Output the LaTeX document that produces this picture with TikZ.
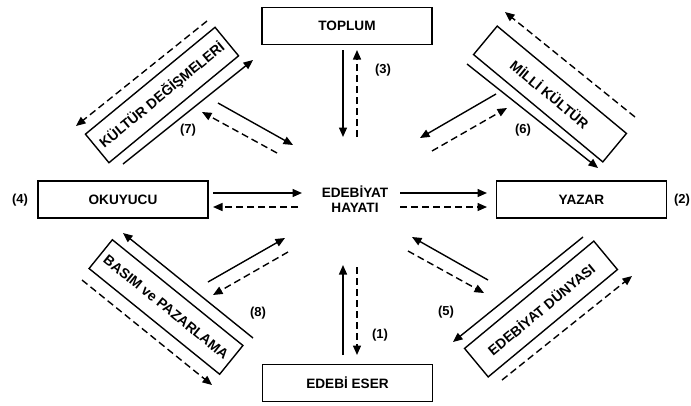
\documentclass[tikz,border=0pt]{standalone}
\usepackage{fontspec}
\setmainfont{Liberation Sans}
\usetikzlibrary{arrows.meta}
\begin{document}
\begin{tikzpicture}[x=1pt,y=-1pt,
 box/.style={draw,line width=1.5pt,minimum width=170pt,minimum height=37pt,inner sep=0pt,font=\fontsize{13.6}{15.5}\bfseries\selectfont},
 rbox/.style={draw,line width=1.4pt,minimum width=168pt,minimum height=37pt,inner sep=0pt,font=\fontsize{14}{15}\bfseries\selectfont},
 lbl/.style={inner sep=0pt,font=\fontsize{13}{14}\bfseries\selectfont},
 arr/.style={line width=1.4pt,-{Triangle[length=9.5pt,width=8pt]}},
 darr/.style={arr,dash pattern=on 7pt off 4pt},
]
\useasboundingbox (0,0) rectangle (691,405);
% main boxes
\node[box] (toplum) at (347,26) {TOPLUM};
\node[box] (okuyucu) at (123,199.5) {OKUYUCU};
\node[box] (yazar) at (581.5,199.5) {YAZAR};
\node[box] (eser) at (347.5,383) {EDEB\.I ESER};
\node[inner sep=0pt,align=center,font=\fontsize{13.6}{15}\bfseries\selectfont] (hayat) at (355,199.5) {EDEB\.IYAT\\HAYATI};
% rotated boxes
\node[rbox,rotate=39.5] (kultur) at (162,95) {KÜLTÜR DEĞİŞMELERİ};
\node[rbox,rotate=-39.7] (milli) at (550,94) {MİLLİ KÜLTÜR};
\node[rbox,rotate=-39] (basim) at (166,307) {BASIM ve PAZARLAMA};
\node[rbox,rotate=39.7] (dunya) at (541,309) {EDEBİYAT DÜNYASI};
% numbers
\node[lbl] (n3) at (383,70) {(3)};
\node[lbl] (n4) at (20,200) {(4)};
\node[lbl] (n2) at (682,200) {(2)};
\node[lbl] (n1) at (380,335) {(1)};
\node[lbl] (n7) at (188,130) {(7)};
\node[lbl] (n6) at (523,130) {(6)};
\node[lbl] (n8) at (258,313) {(8)};
\node[lbl] (n5) at (446,312) {(5)};
% coordinates
\coordinate (t1) at (343,50); \coordinate (t2) at (343,137);
\coordinate (t3) at (357,137); \coordinate (t4) at (357,50);
\coordinate (b1) at (343,355); \coordinate (b2) at (343,265);
\coordinate (b3) at (357,267); \coordinate (b4) at (357,355);
\coordinate (l1) at (213,193); \coordinate (l2) at (302,193);
\coordinate (l3) at (298,207); \coordinate (l4) at (213,207);
\coordinate (r1) at (400,193); \coordinate (r2) at (487,193);
\coordinate (r3) at (400,207); \coordinate (r4) at (487,207);
\coordinate (k1) at (207,21); \coordinate (k2) at (76,126);
\coordinate (k3) at (123,164); \coordinate (k4) at (253,60);
\coordinate (k5) at (218,103); \coordinate (k6) at (293,145);
\coordinate (k7) at (277,153); \coordinate (k8) at (202,112);
\coordinate (m1) at (635,117); \coordinate (m2) at (505,12);
\coordinate (m3) at (467,64); \coordinate (m4) at (598,168);
\coordinate (m5) at (496,94); \coordinate (m6) at (420,138);
\coordinate (m7) at (432,151); \coordinate (m8) at (507,108);
\coordinate (p1) at (253,338); \coordinate (p2) at (123,233);
\coordinate (p3) at (82,280); \coordinate (p4) at (212,385);
\coordinate (p5) at (208,282); \coordinate (p6) at (285,238);
\coordinate (p7) at (288,252); \coordinate (p8) at (213,295);
\coordinate (d1) at (583,237); \coordinate (d2) at (453,342);
\coordinate (d3) at (502,380); \coordinate (d4) at (632,276);
\coordinate (d5) at (488,280); \coordinate (d6) at (412,237);
\coordinate (d7) at (408,251); \coordinate (d8) at (484,293);
% arrows
\draw[arr] (t1) -- (t2); \draw[darr] (t3) -- (t4);
\draw[arr] (b1) -- (b2); \draw[darr] (b3) -- (b4);
\draw[arr] (l1) -- (l2); \draw[darr] (l3) -- (l4);
\draw[arr] (r1) -- (r2); \draw[darr] (r3) -- (r4);
\draw[darr] (k1) -- (k2); \draw[arr] (k3) -- (k4);
\draw[arr] (k5) -- (k6); \draw[darr] (k7) -- (k8);
\draw[darr] (m1) -- (m2); \draw[arr] (m3) -- (m4);
\draw[arr] (m5) -- (m6); \draw[darr] (m7) -- (m8);
\draw[arr] (p1) -- (p2); \draw[darr] (p3) -- (p4);
\draw[arr] (p5) -- (p6); \draw[darr] (p7) -- (p8);
\draw[arr] (d1) -- (d2); \draw[darr] (d3) -- (d4);
\draw[arr] (d5) -- (d6); \draw[darr] (d7) -- (d8);
\end{tikzpicture}
\end{document}
